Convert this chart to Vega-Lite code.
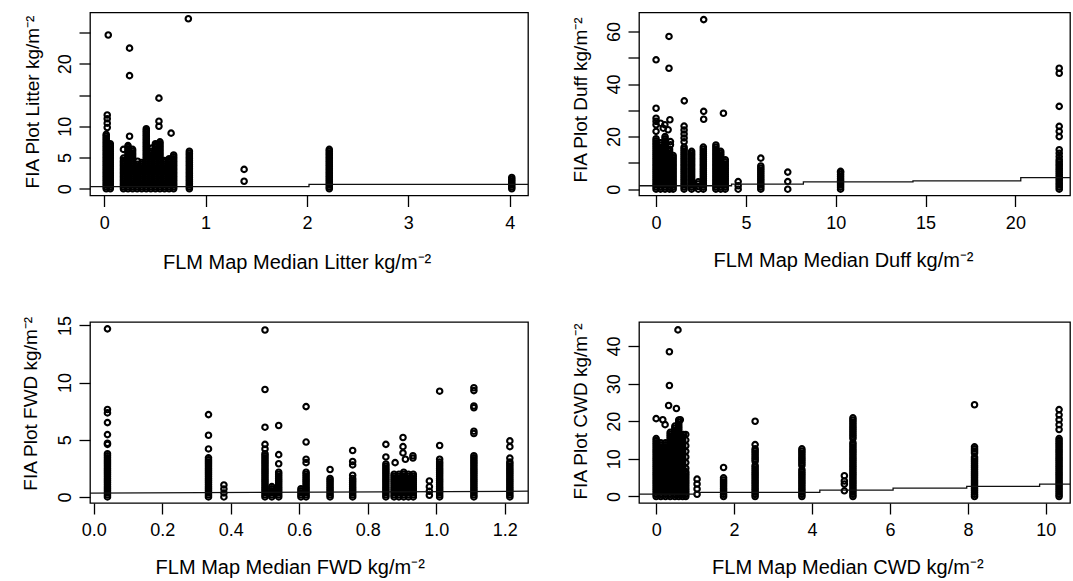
{
"$schema": "https://vega.github.io/schema/vega-lite/v6.json",
"padding": {"left": 20, "top": 10.5, "right": 0, "bottom": 0},
"background": "white",
"config": {
 "font": "Liberation Sans",
 "view": {"stroke": "#000", "strokeWidth": 1.3},
 "axis": {"domain": false, "grid": false, "ticks": true, "tickColor": "#000", "tickSize": 11, "tickWidth": 1.3, "labelColor": "#000", "labelFont": "Liberation Sans", "labelFontSize": 18, "labelFlush": false, "labelOverlap": false, "labelBound": false, "titleColor": "#000", "titleFont": "Liberation Sans", "titleFontSize": 19, "titleFontWeight": "normal", "titleAlign": "center", "titleBaseline": "alphabetic"},
 "axisX": {"labelAngle": 0, "labelBaseline": "alphabetic", "labelPadding": 21.7, "titleAngle": 0, "titleFontSize": 20},
 "axisY": {"labelAngle": 270, "labelAlign": "center", "labelBaseline": "alphabetic", "labelPadding": 8.3, "titleAngle": 270, "titleFontSize": 19}
},
"datasets": {
 "litter": [
{"x":0.02,"y":0},{"x":0.02,"y":0.3},{"x":0.02,"y":0.6},{"x":0.02,"y":0.9},{"x":0.02,"y":1.2},{"x":0.02,"y":1.5},{"x":0.02,"y":1.8},{"x":0.02,"y":2.1},{"x":0.02,"y":2.4},{"x":0.02,"y":2.7},{"x":0.02,"y":3},{"x":0.02,"y":3.3},{"x":0.02,"y":3.6},{"x":0.02,"y":3.9},{"x":0.02,"y":4.2},{"x":0.02,"y":4.5},{"x":0.02,"y":4.8},{"x":0.02,"y":5.1},{"x":0.02,"y":5.4},{"x":0.02,"y":5.7},{"x":0.02,"y":6},{"x":0.02,"y":6.3},{"x":0.02,"y":6.6},{"x":0.02,"y":6.9},{"x":0.02,"y":7.2},{"x":0.02,"y":7.5},{"x":0.02,"y":7.8},{"x":0.02,"y":8.1},{"x":0.02,"y":8.4},{"x":0.02,"y":8.7},
{"x":0.06,"y":0},{"x":0.06,"y":0.3},{"x":0.06,"y":0.6},{"x":0.06,"y":0.9},{"x":0.06,"y":1.2},{"x":0.06,"y":1.5},{"x":0.06,"y":1.8},{"x":0.06,"y":2.1},{"x":0.06,"y":2.4},{"x":0.06,"y":2.7},{"x":0.06,"y":3},{"x":0.06,"y":3.3},{"x":0.06,"y":3.6},{"x":0.06,"y":3.9},{"x":0.06,"y":4.2},{"x":0.06,"y":4.5},{"x":0.06,"y":4.8},{"x":0.06,"y":5.1},{"x":0.06,"y":5.4},{"x":0.06,"y":5.7},{"x":0.06,"y":6},{"x":0.06,"y":6.3},{"x":0.06,"y":6.6},{"x":0.06,"y":6.9},{"x":0.06,"y":7.2},
{"x":0.19,"y":0},{"x":0.19,"y":0.3},{"x":0.19,"y":0.6},{"x":0.19,"y":0.9},{"x":0.19,"y":1.2},{"x":0.19,"y":1.5},{"x":0.19,"y":1.8},{"x":0.19,"y":2.1},{"x":0.19,"y":2.4},{"x":0.19,"y":2.7},{"x":0.19,"y":3},{"x":0.19,"y":3.3},{"x":0.19,"y":3.6},{"x":0.19,"y":3.9},{"x":0.19,"y":4.2},{"x":0.19,"y":4.5},
{"x":0.235,"y":0},{"x":0.235,"y":0.3},{"x":0.235,"y":0.6},{"x":0.235,"y":0.9},{"x":0.235,"y":1.2},{"x":0.235,"y":1.5},{"x":0.235,"y":1.8},{"x":0.235,"y":2.1},{"x":0.235,"y":2.4},{"x":0.235,"y":2.7},{"x":0.235,"y":3},{"x":0.235,"y":3.3},{"x":0.235,"y":3.6},{"x":0.235,"y":3.9},{"x":0.235,"y":4.2},{"x":0.235,"y":4.5},{"x":0.235,"y":4.8},{"x":0.235,"y":5.1},{"x":0.235,"y":5.4},{"x":0.235,"y":5.7},{"x":0.235,"y":6},{"x":0.235,"y":6.3},{"x":0.235,"y":6.6},{"x":0.235,"y":6.9},
{"x":0.28,"y":0},{"x":0.28,"y":0.3},{"x":0.28,"y":0.6},{"x":0.28,"y":0.9},{"x":0.28,"y":1.2},{"x":0.28,"y":1.5},{"x":0.28,"y":1.8},{"x":0.28,"y":2.1},{"x":0.28,"y":2.4},{"x":0.28,"y":2.7},{"x":0.28,"y":3},{"x":0.28,"y":3.3},{"x":0.28,"y":3.6},{"x":0.28,"y":3.9},{"x":0.28,"y":4.2},{"x":0.28,"y":4.5},{"x":0.28,"y":4.8},{"x":0.28,"y":5.1},{"x":0.28,"y":5.4},{"x":0.28,"y":5.7},{"x":0.28,"y":6},{"x":0.28,"y":6.3},
{"x":0.325,"y":0},{"x":0.325,"y":0.3},{"x":0.325,"y":0.6},{"x":0.325,"y":0.9},{"x":0.325,"y":1.2},{"x":0.325,"y":1.5},{"x":0.325,"y":1.8},{"x":0.325,"y":2.1},{"x":0.325,"y":2.4},{"x":0.325,"y":2.7},{"x":0.325,"y":3},{"x":0.325,"y":3.3},{"x":0.325,"y":3.6},{"x":0.325,"y":3.9},
{"x":0.37,"y":0},{"x":0.37,"y":0.3},{"x":0.37,"y":0.6},{"x":0.37,"y":0.9},{"x":0.37,"y":1.2},{"x":0.37,"y":1.5},{"x":0.37,"y":1.8},{"x":0.37,"y":2.1},{"x":0.37,"y":2.4},{"x":0.37,"y":2.7},{"x":0.37,"y":3},{"x":0.37,"y":3.3},{"x":0.37,"y":3.6},{"x":0.37,"y":3.9},{"x":0.37,"y":4.2},
{"x":0.415,"y":0},{"x":0.415,"y":0.3},{"x":0.415,"y":0.6},{"x":0.415,"y":0.9},{"x":0.415,"y":1.2},{"x":0.415,"y":1.5},{"x":0.415,"y":1.8},{"x":0.415,"y":2.1},{"x":0.415,"y":2.4},{"x":0.415,"y":2.7},{"x":0.415,"y":3},{"x":0.415,"y":3.3},{"x":0.415,"y":3.6},{"x":0.415,"y":3.9},{"x":0.415,"y":4.2},{"x":0.415,"y":4.5},{"x":0.415,"y":4.8},{"x":0.415,"y":5.1},{"x":0.415,"y":5.4},{"x":0.415,"y":5.7},{"x":0.415,"y":6},{"x":0.415,"y":6.3},{"x":0.415,"y":6.6},{"x":0.415,"y":6.9},{"x":0.415,"y":7.2},{"x":0.415,"y":7.5},{"x":0.415,"y":7.8},{"x":0.415,"y":8.1},{"x":0.415,"y":8.4},{"x":0.415,"y":8.7},{"x":0.415,"y":9},{"x":0.415,"y":9.3},{"x":0.415,"y":9.6},
{"x":0.46,"y":0},{"x":0.46,"y":0.3},{"x":0.46,"y":0.6},{"x":0.46,"y":0.9},{"x":0.46,"y":1.2},{"x":0.46,"y":1.5},{"x":0.46,"y":1.8},{"x":0.46,"y":2.1},{"x":0.46,"y":2.4},{"x":0.46,"y":2.7},{"x":0.46,"y":3},{"x":0.46,"y":3.3},{"x":0.46,"y":3.6},{"x":0.46,"y":3.9},{"x":0.46,"y":4.2},{"x":0.46,"y":4.5},{"x":0.46,"y":4.8},{"x":0.46,"y":5.1},{"x":0.46,"y":5.4},{"x":0.46,"y":5.7},{"x":0.46,"y":6},
{"x":0.505,"y":0},{"x":0.505,"y":0.3},{"x":0.505,"y":0.6},{"x":0.505,"y":0.9},{"x":0.505,"y":1.2},{"x":0.505,"y":1.5},{"x":0.505,"y":1.8},{"x":0.505,"y":2.1},{"x":0.505,"y":2.4},{"x":0.505,"y":2.7},{"x":0.505,"y":3},{"x":0.505,"y":3.3},{"x":0.505,"y":3.6},{"x":0.505,"y":3.9},{"x":0.505,"y":4.2},{"x":0.505,"y":4.5},{"x":0.505,"y":4.8},{"x":0.505,"y":5.1},{"x":0.505,"y":5.4},{"x":0.505,"y":5.7},{"x":0.505,"y":6},{"x":0.505,"y":6.3},{"x":0.505,"y":6.6},{"x":0.505,"y":6.9},{"x":0.505,"y":7.2},
{"x":0.55,"y":0},{"x":0.55,"y":0.3},{"x":0.55,"y":0.6},{"x":0.55,"y":0.9},{"x":0.55,"y":1.2},{"x":0.55,"y":1.5},{"x":0.55,"y":1.8},{"x":0.55,"y":2.1},{"x":0.55,"y":2.4},{"x":0.55,"y":2.7},{"x":0.55,"y":3},{"x":0.55,"y":3.3},{"x":0.55,"y":3.6},{"x":0.55,"y":3.9},{"x":0.55,"y":4.2},{"x":0.55,"y":4.5},{"x":0.55,"y":4.8},{"x":0.55,"y":5.1},{"x":0.55,"y":5.4},{"x":0.55,"y":5.7},{"x":0.55,"y":6},{"x":0.55,"y":6.3},{"x":0.55,"y":6.6},{"x":0.55,"y":6.9},{"x":0.55,"y":7.2},{"x":0.55,"y":7.5},
{"x":0.595,"y":0},{"x":0.595,"y":0.3},{"x":0.595,"y":0.6},{"x":0.595,"y":0.9},{"x":0.595,"y":1.2},{"x":0.595,"y":1.5},{"x":0.595,"y":1.8},{"x":0.595,"y":2.1},{"x":0.595,"y":2.4},{"x":0.595,"y":2.7},{"x":0.595,"y":3},{"x":0.595,"y":3.3},{"x":0.595,"y":3.6},{"x":0.595,"y":3.9},{"x":0.595,"y":4.2},{"x":0.595,"y":4.5},
{"x":0.64,"y":0},{"x":0.64,"y":0.3},{"x":0.64,"y":0.6},{"x":0.64,"y":0.9},{"x":0.64,"y":1.2},{"x":0.64,"y":1.5},{"x":0.64,"y":1.8},{"x":0.64,"y":2.1},{"x":0.64,"y":2.4},{"x":0.64,"y":2.7},{"x":0.64,"y":3},{"x":0.64,"y":3.3},{"x":0.64,"y":3.6},{"x":0.64,"y":3.9},{"x":0.64,"y":4.2},{"x":0.64,"y":4.5},{"x":0.64,"y":4.8},
{"x":0.685,"y":0},{"x":0.685,"y":0.3},{"x":0.685,"y":0.6},{"x":0.685,"y":0.9},{"x":0.685,"y":1.2},{"x":0.685,"y":1.5},{"x":0.685,"y":1.8},{"x":0.685,"y":2.1},{"x":0.685,"y":2.4},{"x":0.685,"y":2.7},{"x":0.685,"y":3},{"x":0.685,"y":3.3},{"x":0.685,"y":3.6},{"x":0.685,"y":3.9},{"x":0.685,"y":4.2},{"x":0.685,"y":4.5},{"x":0.685,"y":4.8},{"x":0.685,"y":5.1},{"x":0.685,"y":5.4},
{"x":0.84,"y":0},{"x":0.84,"y":0.3},{"x":0.84,"y":0.6},{"x":0.84,"y":0.9},{"x":0.84,"y":1.2},{"x":0.84,"y":1.5},{"x":0.84,"y":1.8},{"x":0.84,"y":2.1},{"x":0.84,"y":2.4},{"x":0.84,"y":2.7},{"x":0.84,"y":3},{"x":0.84,"y":3.3},{"x":0.84,"y":3.6},{"x":0.84,"y":3.9},{"x":0.84,"y":4.2},{"x":0.84,"y":4.5},{"x":0.84,"y":4.8},{"x":0.84,"y":5.1},{"x":0.84,"y":5.4},{"x":0.84,"y":5.7},{"x":0.84,"y":6},
{"x":2.22,"y":0},{"x":2.22,"y":0.3},{"x":2.22,"y":0.6},{"x":2.22,"y":0.9},{"x":2.22,"y":1.2},{"x":2.22,"y":1.5},{"x":2.22,"y":1.8},{"x":2.22,"y":2.1},{"x":2.22,"y":2.4},{"x":2.22,"y":2.7},{"x":2.22,"y":3},{"x":2.22,"y":3.3},{"x":2.22,"y":3.6},{"x":2.22,"y":3.9},{"x":2.22,"y":4.2},{"x":2.22,"y":4.5},{"x":2.22,"y":4.8},{"x":2.22,"y":5.1},{"x":2.22,"y":5.4},{"x":2.22,"y":5.7},{"x":2.22,"y":6},
{"x":4.02,"y":0},{"x":4.02,"y":0.3},{"x":4.02,"y":0.6},{"x":4.02,"y":0.9},{"x":4.02,"y":1.2},{"x":4.02,"y":1.5},
{"x":0.03,"y":11.8},{"x":0.03,"y":11.2},{"x":0.03,"y":10.5},{"x":0.03,"y":9.8},{"x":0.04,"y":24.6},{"x":0.19,"y":6.3},{"x":0.19,"y":4.9},{"x":0.25,"y":22.5},{"x":0.25,"y":18.1},{"x":0.25,"y":8.4},{"x":0.33,"y":4.4},{"x":0.47,"y":6.5},{"x":0.54,"y":14.5},{"x":0.54,"y":10.8},{"x":0.54,"y":10},{"x":0.66,"y":8.9},{"x":0.83,"y":27.2},{"x":1.38,"y":3.1},{"x":1.38,"y":1.2},{"x":2.22,"y":6.3},{"x":4.02,"y":1.8}
 ],
 "litterFit": [{"x":-0.14,"y":0.35},{"x":2.02,"y":0.7},{"x":4.18,"y":0.7}],
 "duff": [
{"x":0,"y":0},{"x":0,"y":0.8},{"x":0,"y":1.6},{"x":0,"y":2.4},{"x":0,"y":3.2},{"x":0,"y":4},{"x":0,"y":4.8},{"x":0,"y":5.6},{"x":0,"y":6.4},{"x":0,"y":7.2},{"x":0,"y":8},{"x":0,"y":8.8},{"x":0,"y":9.6},{"x":0,"y":10.4},{"x":0,"y":11.2},{"x":0,"y":12},{"x":0,"y":12.8},{"x":0,"y":13.6},{"x":0,"y":14.4},{"x":0,"y":15.2},{"x":0,"y":16},{"x":0,"y":16.8},{"x":0,"y":17.6},{"x":0,"y":18.4},{"x":0,"y":19.2},
{"x":0.25,"y":0},{"x":0.25,"y":0.8},{"x":0.25,"y":1.6},{"x":0.25,"y":2.4},{"x":0.25,"y":3.2},{"x":0.25,"y":4},{"x":0.25,"y":4.8},{"x":0.25,"y":5.6},{"x":0.25,"y":6.4},{"x":0.25,"y":7.2},{"x":0.25,"y":8},{"x":0.25,"y":8.8},{"x":0.25,"y":9.6},{"x":0.25,"y":10.4},{"x":0.25,"y":11.2},{"x":0.25,"y":12},{"x":0.25,"y":12.8},{"x":0.25,"y":13.6},{"x":0.25,"y":14.4},{"x":0.25,"y":15.2},{"x":0.25,"y":16},{"x":0.25,"y":16.8},{"x":0.25,"y":17.6},
{"x":0.5,"y":0},{"x":0.5,"y":0.8},{"x":0.5,"y":1.6},{"x":0.5,"y":2.4},{"x":0.5,"y":3.2},{"x":0.5,"y":4},{"x":0.5,"y":4.8},{"x":0.5,"y":5.6},{"x":0.5,"y":6.4},{"x":0.5,"y":7.2},{"x":0.5,"y":8},{"x":0.5,"y":8.8},{"x":0.5,"y":9.6},{"x":0.5,"y":10.4},{"x":0.5,"y":11.2},{"x":0.5,"y":12},{"x":0.5,"y":12.8},{"x":0.5,"y":13.6},{"x":0.5,"y":14.4},{"x":0.5,"y":15.2},{"x":0.5,"y":16},{"x":0.5,"y":16.8},{"x":0.5,"y":17.6},{"x":0.5,"y":18.4},{"x":0.5,"y":19.2},{"x":0.5,"y":20},
{"x":0.75,"y":0},{"x":0.75,"y":0.8},{"x":0.75,"y":1.6},{"x":0.75,"y":2.4},{"x":0.75,"y":3.2},{"x":0.75,"y":4},{"x":0.75,"y":4.8},{"x":0.75,"y":5.6},{"x":0.75,"y":6.4},{"x":0.75,"y":7.2},{"x":0.75,"y":8},{"x":0.75,"y":8.8},{"x":0.75,"y":9.6},{"x":0.75,"y":10.4},{"x":0.75,"y":11.2},{"x":0.75,"y":12},{"x":0.75,"y":12.8},{"x":0.75,"y":13.6},{"x":0.75,"y":14.4},{"x":0.75,"y":15.2},
{"x":0.95,"y":0},{"x":0.95,"y":0.8},{"x":0.95,"y":1.6},{"x":0.95,"y":2.4},{"x":0.95,"y":3.2},{"x":0.95,"y":4},{"x":0.95,"y":4.8},{"x":0.95,"y":5.6},{"x":0.95,"y":6.4},{"x":0.95,"y":7.2},{"x":0.95,"y":8},{"x":0.95,"y":8.8},{"x":0.95,"y":9.6},{"x":0.95,"y":10.4},{"x":0.95,"y":11.2},{"x":0.95,"y":12},{"x":0.95,"y":12.8},
{"x":1.56,"y":0},{"x":1.56,"y":0.8},{"x":1.56,"y":1.6},{"x":1.56,"y":2.4},{"x":1.56,"y":3.2},{"x":1.56,"y":4},{"x":1.56,"y":4.8},{"x":1.56,"y":5.6},{"x":1.56,"y":6.4},{"x":1.56,"y":7.2},{"x":1.56,"y":8},{"x":1.56,"y":8.8},{"x":1.56,"y":9.6},{"x":1.56,"y":10.4},{"x":1.56,"y":11.2},{"x":1.56,"y":12},{"x":1.56,"y":12.8},{"x":1.56,"y":13.6},{"x":1.56,"y":14.4},{"x":1.56,"y":15.2},{"x":1.56,"y":16},{"x":1.56,"y":18},{"x":1.56,"y":19.5},{"x":1.56,"y":21},{"x":1.56,"y":22.5},{"x":1.56,"y":24},
{"x":1.98,"y":0},{"x":1.98,"y":0.8},{"x":1.98,"y":1.6},{"x":1.98,"y":2.4},{"x":1.98,"y":3.2},{"x":1.98,"y":4},{"x":1.98,"y":4.8},{"x":1.98,"y":5.6},{"x":1.98,"y":6.4},{"x":1.98,"y":7.2},{"x":1.98,"y":8},{"x":1.98,"y":8.8},{"x":1.98,"y":9.6},{"x":1.98,"y":10.4},{"x":1.98,"y":11.2},{"x":1.98,"y":12},{"x":1.98,"y":12.8},{"x":1.98,"y":13.6},{"x":1.98,"y":14.4},
{"x":2.35,"y":0},{"x":2.35,"y":1},{"x":2.35,"y":2},{"x":2.35,"y":2.8},
{"x":2.63,"y":0},{"x":2.63,"y":0.8},{"x":2.63,"y":1.6},{"x":2.63,"y":2.4},{"x":2.63,"y":3.2},{"x":2.63,"y":4},{"x":2.63,"y":4.8},{"x":2.63,"y":5.6},{"x":2.63,"y":6.4},{"x":2.63,"y":7.2},{"x":2.63,"y":8},{"x":2.63,"y":8.8},{"x":2.63,"y":9.6},{"x":2.63,"y":10.4},{"x":2.63,"y":11.2},{"x":2.63,"y":12},{"x":2.63,"y":12.8},{"x":2.63,"y":13.6},{"x":2.63,"y":14.4},{"x":2.63,"y":15.2},{"x":2.63,"y":16},
{"x":3.33,"y":0},{"x":3.33,"y":0.8},{"x":3.33,"y":1.6},{"x":3.33,"y":2.4},{"x":3.33,"y":3.2},{"x":3.33,"y":4},{"x":3.33,"y":4.8},{"x":3.33,"y":5.6},{"x":3.33,"y":6.4},{"x":3.33,"y":7.2},{"x":3.33,"y":8},{"x":3.33,"y":8.8},{"x":3.33,"y":9.6},{"x":3.33,"y":10.4},{"x":3.33,"y":11.2},{"x":3.33,"y":12},{"x":3.33,"y":12.8},{"x":3.33,"y":13.6},{"x":3.33,"y":14.4},{"x":3.33,"y":15.2},{"x":3.33,"y":16},{"x":3.33,"y":16.8},
{"x":3.6,"y":0},{"x":3.6,"y":0.8},{"x":3.6,"y":1.6},{"x":3.6,"y":2.4},{"x":3.6,"y":3.2},{"x":3.6,"y":4},{"x":3.6,"y":4.8},{"x":3.6,"y":5.6},{"x":3.6,"y":6.4},{"x":3.6,"y":7.2},{"x":3.6,"y":8},{"x":3.6,"y":8.8},{"x":3.6,"y":9.6},{"x":3.6,"y":10.4},{"x":3.6,"y":11.2},{"x":3.6,"y":12},{"x":3.6,"y":12.8},{"x":3.6,"y":13.6},{"x":3.6,"y":14.4},
{"x":3.85,"y":0},{"x":3.85,"y":0.8},{"x":3.85,"y":1.6},{"x":3.85,"y":2.4},{"x":3.85,"y":3.2},{"x":3.85,"y":4},{"x":3.85,"y":4.8},{"x":3.85,"y":5.6},{"x":3.85,"y":6.4},{"x":3.85,"y":7.2},{"x":3.85,"y":8},{"x":3.85,"y":8.8},{"x":3.85,"y":9.6},{"x":3.85,"y":10.4},{"x":3.85,"y":11.2},
{"x":4.57,"y":0},{"x":4.57,"y":1.3},{"x":4.57,"y":2.9},
{"x":5.83,"y":0},{"x":5.83,"y":0.8},{"x":5.83,"y":1.6},{"x":5.83,"y":2.4},{"x":5.83,"y":3.2},{"x":5.83,"y":4},{"x":5.83,"y":4.8},{"x":5.83,"y":5.6},{"x":5.83,"y":6.4},{"x":5.83,"y":7.2},{"x":5.83,"y":8},{"x":5.83,"y":8.8},
{"x":7.33,"y":0},{"x":7.33,"y":2.9},{"x":7.33,"y":6.5},
{"x":10.27,"y":0},{"x":10.27,"y":0.8},{"x":10.27,"y":1.6},{"x":10.27,"y":2.4},{"x":10.27,"y":3.2},{"x":10.27,"y":4},{"x":10.27,"y":4.8},{"x":10.27,"y":5.6},{"x":10.27,"y":6.4},
{"x":22.44,"y":0},{"x":22.44,"y":0.8},{"x":22.44,"y":1.6},{"x":22.44,"y":2.4},{"x":22.44,"y":3.2},{"x":22.44,"y":4},{"x":22.44,"y":4.8},{"x":22.44,"y":5.6},{"x":22.44,"y":6.4},{"x":22.44,"y":7.2},{"x":22.44,"y":8},{"x":22.44,"y":8.8},{"x":22.44,"y":9.6},{"x":22.44,"y":10.4},{"x":22.44,"y":11.2},
{"x":0,"y":30.8},{"x":0,"y":27},{"x":0,"y":25.8},{"x":0,"y":24.5},{"x":0,"y":22},{"x":0,"y":49.2},{"x":0.25,"y":25.1},{"x":0.4,"y":23.2},{"x":0.49,"y":24.5},{"x":0.77,"y":26.4},{"x":0.67,"y":22.6},{"x":0.8,"y":18.1},{"x":0.8,"y":16.9},{"x":0.72,"y":58.1},{"x":0.72,"y":46},{"x":1.57,"y":33.6},{"x":2.65,"y":64.5},{"x":2.65,"y":29.6},{"x":2.65,"y":26.6},{"x":3.75,"y":28.9},{"x":5.83,"y":11.8},{"x":10.27,"y":6.8},{"x":22.44,"y":12.4},{"x":22.44,"y":13.7},{"x":22.44,"y":15},{"x":22.44,"y":20},{"x":22.44,"y":22},{"x":22.44,"y":23.9},{"x":22.44,"y":31.5},{"x":22.44,"y":44.1},{"x":22.44,"y":46}
 ],
 "duffFit": [{"x":-0.95,"y":1.3},{"x":4.2,"y":1.9},{"x":8.2,"y":2.8},{"x":14.3,"y":3.2},{"x":20.3,"y":4.4},{"x":23.04,"y":4.4}],
 "fwd": [
{"x":0.04,"y":0},{"x":0.04,"y":0.18},{"x":0.04,"y":0.36},{"x":0.04,"y":0.54},{"x":0.04,"y":0.72},{"x":0.04,"y":0.9},{"x":0.04,"y":1.08},{"x":0.04,"y":1.26},{"x":0.04,"y":1.44},{"x":0.04,"y":1.62},{"x":0.04,"y":1.8},{"x":0.04,"y":1.98},{"x":0.04,"y":2.16},{"x":0.04,"y":2.34},{"x":0.04,"y":2.52},{"x":0.04,"y":2.7},{"x":0.04,"y":2.88},{"x":0.04,"y":3.06},{"x":0.04,"y":3.24},{"x":0.04,"y":3.42},{"x":0.04,"y":3.6},{"x":0.04,"y":3.78},
{"x":0.335,"y":0},{"x":0.335,"y":0.18},{"x":0.335,"y":0.36},{"x":0.335,"y":0.54},{"x":0.335,"y":0.72},{"x":0.335,"y":0.9},{"x":0.335,"y":1.08},{"x":0.335,"y":1.26},{"x":0.335,"y":1.44},{"x":0.335,"y":1.62},{"x":0.335,"y":1.8},{"x":0.335,"y":1.98},{"x":0.335,"y":2.16},{"x":0.335,"y":2.34},{"x":0.335,"y":2.52},{"x":0.335,"y":2.7},{"x":0.335,"y":2.88},{"x":0.335,"y":3.06},{"x":0.335,"y":3.24},{"x":0.335,"y":3.42},
{"x":0.38,"y":0},{"x":0.38,"y":0.35},{"x":0.38,"y":0.7},{"x":0.38,"y":1.05},
{"x":0.5,"y":0},{"x":0.5,"y":0.18},{"x":0.5,"y":0.36},{"x":0.5,"y":0.54},{"x":0.5,"y":0.72},{"x":0.5,"y":0.9},{"x":0.5,"y":1.08},{"x":0.5,"y":1.26},{"x":0.5,"y":1.44},{"x":0.5,"y":1.62},{"x":0.5,"y":1.8},{"x":0.5,"y":1.98},{"x":0.5,"y":2.16},{"x":0.5,"y":2.34},{"x":0.5,"y":2.52},{"x":0.5,"y":2.7},{"x":0.5,"y":2.88},{"x":0.5,"y":3.06},{"x":0.5,"y":3.24},{"x":0.5,"y":3.42},{"x":0.5,"y":3.6},{"x":0.5,"y":3.78},
{"x":0.52,"y":0},{"x":0.52,"y":0.18},{"x":0.52,"y":0.36},{"x":0.52,"y":0.54},{"x":0.52,"y":0.72},{"x":0.52,"y":0.9},
{"x":0.54,"y":0},{"x":0.54,"y":0.18},{"x":0.54,"y":0.36},{"x":0.54,"y":0.54},{"x":0.54,"y":0.72},{"x":0.54,"y":0.9},{"x":0.54,"y":1.08},{"x":0.54,"y":1.26},{"x":0.54,"y":1.44},{"x":0.54,"y":1.62},{"x":0.54,"y":1.8},{"x":0.54,"y":1.98},{"x":0.54,"y":2.16},
{"x":0.605,"y":0},{"x":0.605,"y":0.18},{"x":0.605,"y":0.36},{"x":0.605,"y":0.54},{"x":0.605,"y":0.72},
{"x":0.62,"y":0},{"x":0.62,"y":0.18},{"x":0.62,"y":0.36},{"x":0.62,"y":0.54},{"x":0.62,"y":0.72},{"x":0.62,"y":0.9},{"x":0.62,"y":1.08},{"x":0.62,"y":1.26},{"x":0.62,"y":1.44},{"x":0.62,"y":1.62},{"x":0.62,"y":1.8},{"x":0.62,"y":1.98},{"x":0.62,"y":2.16},
{"x":0.69,"y":0},{"x":0.69,"y":0.18},{"x":0.69,"y":0.36},{"x":0.69,"y":0.54},{"x":0.69,"y":0.72},{"x":0.69,"y":0.9},{"x":0.69,"y":1.08},{"x":0.69,"y":1.26},{"x":0.69,"y":1.44},{"x":0.69,"y":1.62},
{"x":0.756,"y":0},{"x":0.756,"y":0.18},{"x":0.756,"y":0.36},{"x":0.756,"y":0.54},{"x":0.756,"y":0.72},{"x":0.756,"y":0.9},{"x":0.756,"y":1.08},{"x":0.756,"y":1.26},{"x":0.756,"y":1.44},{"x":0.756,"y":1.62},
{"x":0.853,"y":0},{"x":0.853,"y":0.18},{"x":0.853,"y":0.36},{"x":0.853,"y":0.54},{"x":0.853,"y":0.72},{"x":0.853,"y":0.9},{"x":0.853,"y":1.08},{"x":0.853,"y":1.26},{"x":0.853,"y":1.44},{"x":0.853,"y":1.62},{"x":0.853,"y":1.8},{"x":0.853,"y":1.98},{"x":0.853,"y":2.16},{"x":0.853,"y":2.34},{"x":0.853,"y":2.52},{"x":0.853,"y":2.7},{"x":0.853,"y":2.88},
{"x":0.877,"y":0},{"x":0.877,"y":0.18},{"x":0.877,"y":0.36},{"x":0.877,"y":0.54},{"x":0.877,"y":0.72},{"x":0.877,"y":0.9},{"x":0.877,"y":1.08},{"x":0.877,"y":1.26},{"x":0.877,"y":1.44},{"x":0.877,"y":1.62},{"x":0.877,"y":1.8},{"x":0.877,"y":1.98},
{"x":0.891,"y":0},{"x":0.891,"y":0.18},{"x":0.891,"y":0.36},{"x":0.891,"y":0.54},{"x":0.891,"y":0.72},{"x":0.891,"y":0.9},{"x":0.891,"y":1.08},{"x":0.891,"y":1.26},{"x":0.891,"y":1.44},{"x":0.891,"y":1.62},{"x":0.891,"y":1.8},{"x":0.891,"y":1.98},
{"x":0.905,"y":0},{"x":0.905,"y":0.18},{"x":0.905,"y":0.36},{"x":0.905,"y":0.54},{"x":0.905,"y":0.72},{"x":0.905,"y":0.9},{"x":0.905,"y":1.08},{"x":0.905,"y":1.26},{"x":0.905,"y":1.44},{"x":0.905,"y":1.62},{"x":0.905,"y":1.8},{"x":0.905,"y":1.98},{"x":0.905,"y":2.16},
{"x":0.919,"y":0},{"x":0.919,"y":0.18},{"x":0.919,"y":0.36},{"x":0.919,"y":0.54},{"x":0.919,"y":0.72},{"x":0.919,"y":0.9},{"x":0.919,"y":1.08},{"x":0.919,"y":1.26},{"x":0.919,"y":1.44},{"x":0.919,"y":1.62},{"x":0.919,"y":1.8},{"x":0.919,"y":1.98},
{"x":0.933,"y":0},{"x":0.933,"y":0.18},{"x":0.933,"y":0.36},{"x":0.933,"y":0.54},{"x":0.933,"y":0.72},{"x":0.933,"y":0.9},{"x":0.933,"y":1.08},{"x":0.933,"y":1.26},{"x":0.933,"y":1.44},{"x":0.933,"y":1.62},{"x":0.933,"y":1.8},{"x":0.933,"y":1.98},
{"x":0.98,"y":0.15},{"x":0.98,"y":0.5},{"x":0.98,"y":0.9},{"x":0.98,"y":1.4},
{"x":1.01,"y":0},{"x":1.01,"y":0.18},{"x":1.01,"y":0.36},{"x":1.01,"y":0.54},{"x":1.01,"y":0.72},{"x":1.01,"y":0.9},{"x":1.01,"y":1.08},{"x":1.01,"y":1.26},{"x":1.01,"y":1.44},{"x":1.01,"y":1.62},{"x":1.01,"y":1.8},{"x":1.01,"y":1.98},{"x":1.01,"y":2.16},{"x":1.01,"y":2.34},{"x":1.01,"y":2.52},{"x":1.01,"y":2.7},{"x":1.01,"y":2.88},{"x":1.01,"y":3.06},
{"x":1.11,"y":0},{"x":1.11,"y":0.18},{"x":1.11,"y":0.36},{"x":1.11,"y":0.54},{"x":1.11,"y":0.72},{"x":1.11,"y":0.9},{"x":1.11,"y":1.08},{"x":1.11,"y":1.26},{"x":1.11,"y":1.44},{"x":1.11,"y":1.62},{"x":1.11,"y":1.8},{"x":1.11,"y":1.98},{"x":1.11,"y":2.16},{"x":1.11,"y":2.34},{"x":1.11,"y":2.52},{"x":1.11,"y":2.7},{"x":1.11,"y":2.88},{"x":1.11,"y":3.06},{"x":1.11,"y":3.24},{"x":1.11,"y":3.42},
{"x":1.215,"y":0},{"x":1.215,"y":0.18},{"x":1.215,"y":0.36},{"x":1.215,"y":0.54},{"x":1.215,"y":0.72},{"x":1.215,"y":0.9},{"x":1.215,"y":1.08},{"x":1.215,"y":1.26},{"x":1.215,"y":1.44},{"x":1.215,"y":1.62},{"x":1.215,"y":1.8},{"x":1.215,"y":1.98},{"x":1.215,"y":2.16},{"x":1.215,"y":2.34},{"x":1.215,"y":2.52},{"x":1.215,"y":2.7},{"x":1.215,"y":2.88},{"x":1.215,"y":3.06},
{"x":0.04,"y":14.7},{"x":0.04,"y":7.65},{"x":0.04,"y":7.35},{"x":0.04,"y":6.5},{"x":0.04,"y":5.45},{"x":0.04,"y":4.7},{"x":0.04,"y":4.6},{"x":0.335,"y":7.2},{"x":0.335,"y":5.4},{"x":0.335,"y":4.2},{"x":0.5,"y":14.6},{"x":0.5,"y":9.4},{"x":0.5,"y":6.1},{"x":0.5,"y":4.6},{"x":0.5,"y":4.2},{"x":0.54,"y":6.25},{"x":0.54,"y":3.7},{"x":0.54,"y":2.9},{"x":0.62,"y":7.9},{"x":0.62,"y":4.8},{"x":0.62,"y":3.3},{"x":0.62,"y":3},{"x":0.69,"y":2.4},{"x":0.756,"y":4.06},{"x":0.756,"y":3.1},{"x":0.756,"y":2.8},{"x":0.756,"y":1.9},{"x":0.853,"y":3.5},{"x":0.853,"y":4.6},{"x":0.88,"y":3},{"x":0.903,"y":5.2},{"x":0.903,"y":4.4},{"x":0.903,"y":3.85},{"x":0.91,"y":3.3},{"x":0.932,"y":3.6},{"x":0.932,"y":3.4},{"x":1.01,"y":3.3},{"x":1.01,"y":4.5},{"x":1.01,"y":9.25},{"x":1.11,"y":9.55},{"x":1.11,"y":9.3},{"x":1.11,"y":7.95},{"x":1.11,"y":7.8},{"x":1.11,"y":5.75},{"x":1.11,"y":5.55},{"x":1.11,"y":3.6},{"x":1.215,"y":4.9},{"x":1.215,"y":4.4},{"x":1.215,"y":3.4}
 ],
 "fwdFit": [{"x":-0.011,"y":0.33},{"x":1.268,"y":0.5}],
 "cwd": [
{"x":0,"y":0},{"x":0,"y":0.55},{"x":0,"y":1.1},{"x":0,"y":1.65},{"x":0,"y":2.2},{"x":0,"y":2.75},{"x":0,"y":3.3},{"x":0,"y":3.85},{"x":0,"y":4.4},{"x":0,"y":4.95},{"x":0,"y":5.5},{"x":0,"y":6.05},{"x":0,"y":6.6},{"x":0,"y":7.15},{"x":0,"y":7.7},{"x":0,"y":8.25},{"x":0,"y":8.8},{"x":0,"y":9.35},{"x":0,"y":9.9},{"x":0,"y":10.45},{"x":0,"y":11},{"x":0,"y":11.55},{"x":0,"y":12.1},{"x":0,"y":12.65},{"x":0,"y":13.2},{"x":0,"y":13.75},{"x":0,"y":14.3},{"x":0,"y":14.85},{"x":0,"y":15.4},
{"x":0.12,"y":0},{"x":0.12,"y":0.55},{"x":0.12,"y":1.1},{"x":0.12,"y":1.65},{"x":0.12,"y":2.2},{"x":0.12,"y":2.75},{"x":0.12,"y":3.3},{"x":0.12,"y":3.85},{"x":0.12,"y":4.4},{"x":0.12,"y":4.95},{"x":0.12,"y":5.5},{"x":0.12,"y":6.05},{"x":0.12,"y":6.6},{"x":0.12,"y":7.15},{"x":0.12,"y":7.7},{"x":0.12,"y":8.25},{"x":0.12,"y":8.8},{"x":0.12,"y":9.35},{"x":0.12,"y":9.9},{"x":0.12,"y":10.45},{"x":0.12,"y":11},{"x":0.12,"y":11.55},{"x":0.12,"y":12.1},{"x":0.12,"y":12.65},{"x":0.12,"y":13.2},{"x":0.12,"y":13.75},{"x":0.12,"y":14.3},
{"x":0.24,"y":0},{"x":0.24,"y":0.55},{"x":0.24,"y":1.1},{"x":0.24,"y":1.65},{"x":0.24,"y":2.2},{"x":0.24,"y":2.75},{"x":0.24,"y":3.3},{"x":0.24,"y":3.85},{"x":0.24,"y":4.4},{"x":0.24,"y":4.95},{"x":0.24,"y":5.5},{"x":0.24,"y":6.05},{"x":0.24,"y":6.6},{"x":0.24,"y":7.15},{"x":0.24,"y":7.7},{"x":0.24,"y":8.25},{"x":0.24,"y":8.8},{"x":0.24,"y":9.35},{"x":0.24,"y":9.9},{"x":0.24,"y":10.45},{"x":0.24,"y":11},{"x":0.24,"y":11.55},{"x":0.24,"y":12.1},{"x":0.24,"y":12.65},{"x":0.24,"y":13.2},{"x":0.24,"y":13.75},{"x":0.24,"y":14.3},
{"x":0.36,"y":0},{"x":0.36,"y":0.55},{"x":0.36,"y":1.1},{"x":0.36,"y":1.65},{"x":0.36,"y":2.2},{"x":0.36,"y":2.75},{"x":0.36,"y":3.3},{"x":0.36,"y":3.85},{"x":0.36,"y":4.4},{"x":0.36,"y":4.95},{"x":0.36,"y":5.5},{"x":0.36,"y":6.05},{"x":0.36,"y":6.6},{"x":0.36,"y":7.15},{"x":0.36,"y":7.7},{"x":0.36,"y":8.25},{"x":0.36,"y":8.8},{"x":0.36,"y":9.35},{"x":0.36,"y":9.9},{"x":0.36,"y":10.45},{"x":0.36,"y":11},{"x":0.36,"y":11.55},{"x":0.36,"y":12.1},{"x":0.36,"y":12.65},{"x":0.36,"y":13.2},{"x":0.36,"y":13.75},{"x":0.36,"y":14.3},{"x":0.36,"y":14.85},{"x":0.36,"y":15.4},{"x":0.36,"y":15.95},{"x":0.36,"y":16.5},{"x":0.36,"y":17.05},
{"x":0.48,"y":0},{"x":0.48,"y":0.55},{"x":0.48,"y":1.1},{"x":0.48,"y":1.65},{"x":0.48,"y":2.2},{"x":0.48,"y":2.75},{"x":0.48,"y":3.3},{"x":0.48,"y":3.85},{"x":0.48,"y":4.4},{"x":0.48,"y":4.95},{"x":0.48,"y":5.5},{"x":0.48,"y":6.05},{"x":0.48,"y":6.6},{"x":0.48,"y":7.15},{"x":0.48,"y":7.7},{"x":0.48,"y":8.25},{"x":0.48,"y":8.8},{"x":0.48,"y":9.35},{"x":0.48,"y":9.9},{"x":0.48,"y":10.45},{"x":0.48,"y":11},{"x":0.48,"y":11.55},{"x":0.48,"y":12.1},{"x":0.48,"y":12.65},{"x":0.48,"y":13.2},{"x":0.48,"y":13.75},{"x":0.48,"y":14.3},{"x":0.48,"y":14.85},{"x":0.48,"y":15.4},{"x":0.48,"y":15.95},{"x":0.48,"y":16.5},{"x":0.48,"y":17.05},{"x":0.48,"y":17.6},{"x":0.48,"y":18.15},{"x":0.48,"y":18.7},
{"x":0.58,"y":0},{"x":0.58,"y":0.55},{"x":0.58,"y":1.1},{"x":0.58,"y":1.65},{"x":0.58,"y":2.2},{"x":0.58,"y":2.75},{"x":0.58,"y":3.3},{"x":0.58,"y":3.85},{"x":0.58,"y":4.4},{"x":0.58,"y":4.95},{"x":0.58,"y":5.5},{"x":0.58,"y":6.05},{"x":0.58,"y":6.6},{"x":0.58,"y":7.15},{"x":0.58,"y":7.7},{"x":0.58,"y":8.25},{"x":0.58,"y":8.8},{"x":0.58,"y":9.35},{"x":0.58,"y":9.9},{"x":0.58,"y":10.45},{"x":0.58,"y":11},{"x":0.58,"y":11.55},{"x":0.58,"y":12.1},{"x":0.58,"y":12.65},{"x":0.58,"y":13.2},{"x":0.58,"y":13.75},{"x":0.58,"y":14.3},{"x":0.58,"y":14.85},{"x":0.58,"y":15.4},{"x":0.58,"y":15.95},{"x":0.58,"y":16.5},{"x":0.58,"y":17.05},{"x":0.58,"y":17.6},{"x":0.58,"y":18.15},{"x":0.58,"y":18.7},{"x":0.58,"y":19.25},{"x":0.58,"y":19.8},{"x":0.58,"y":20.35},
{"x":0.68,"y":0},{"x":0.68,"y":0.55},{"x":0.68,"y":1.1},{"x":0.68,"y":1.65},{"x":0.68,"y":2.2},{"x":0.68,"y":2.75},{"x":0.68,"y":3.3},{"x":0.68,"y":3.85},{"x":0.68,"y":4.4},{"x":0.68,"y":4.95},{"x":0.68,"y":5.5},{"x":0.68,"y":6.05},{"x":0.68,"y":6.6},{"x":0.68,"y":7.15},{"x":0.68,"y":7.7},{"x":0.68,"y":8.25},{"x":0.68,"y":8.8},{"x":0.68,"y":9.35},{"x":0.68,"y":9.9},{"x":0.68,"y":10.45},{"x":0.68,"y":11},{"x":0.68,"y":11.55},{"x":0.68,"y":12.1},{"x":0.68,"y":12.65},{"x":0.68,"y":13.2},{"x":0.68,"y":13.75},{"x":0.68,"y":14.3},{"x":0.68,"y":14.85},{"x":0.68,"y":15.4},{"x":0.68,"y":15.95},
{"x":0.76,"y":0},{"x":0.76,"y":0.55},{"x":0.76,"y":1.1},{"x":0.76,"y":1.65},{"x":0.76,"y":2.2},{"x":0.76,"y":2.75},{"x":0.76,"y":3.3},{"x":0.76,"y":3.85},{"x":0.76,"y":4.4},{"x":0.76,"y":4.95},{"x":0.76,"y":5.5},{"x":0.76,"y":6.05},{"x":0.76,"y":6.6},
{"x":0.76,"y":7.5},{"x":0.76,"y":9},{"x":0.76,"y":10.5},{"x":0.76,"y":12},{"x":0.76,"y":13.5},{"x":0.76,"y":15},{"x":0.76,"y":16.5},
{"x":1.05,"y":0.6},{"x":1.05,"y":2},{"x":1.05,"y":3.3},{"x":1.05,"y":4.6},
{"x":1.73,"y":0},{"x":1.73,"y":0.55},{"x":1.73,"y":1.1},{"x":1.73,"y":1.65},{"x":1.73,"y":2.2},{"x":1.73,"y":2.75},{"x":1.73,"y":3.3},{"x":1.73,"y":3.85},{"x":1.73,"y":4.4},{"x":1.73,"y":4.95},
{"x":2.54,"y":0},{"x":2.54,"y":0.55},{"x":2.54,"y":1.1},{"x":2.54,"y":1.65},{"x":2.54,"y":2.2},{"x":2.54,"y":2.75},{"x":2.54,"y":3.3},{"x":2.54,"y":3.85},{"x":2.54,"y":4.4},{"x":2.54,"y":4.95},{"x":2.54,"y":5.5},{"x":2.54,"y":6.05},{"x":2.54,"y":6.6},{"x":2.54,"y":7.15},{"x":2.54,"y":7.7},{"x":2.54,"y":8.25},{"x":2.54,"y":9.35},{"x":2.54,"y":9.9},{"x":2.54,"y":10.45},{"x":2.54,"y":11},{"x":2.54,"y":11.55},{"x":2.54,"y":12.1},{"x":2.54,"y":12.65},
{"x":3.74,"y":0},{"x":3.74,"y":0.55},{"x":3.74,"y":1.1},{"x":3.74,"y":1.65},{"x":3.74,"y":2.2},{"x":3.74,"y":2.75},{"x":3.74,"y":3.3},{"x":3.74,"y":3.85},{"x":3.74,"y":4.4},{"x":3.74,"y":4.95},{"x":3.74,"y":5.5},{"x":3.74,"y":6.05},{"x":3.74,"y":6.6},{"x":3.74,"y":7.15},{"x":3.74,"y":8.25},{"x":3.74,"y":8.8},{"x":3.74,"y":9.35},{"x":3.74,"y":9.9},{"x":3.74,"y":10.45},{"x":3.74,"y":11},{"x":3.74,"y":11.55},{"x":3.74,"y":12.1},{"x":3.74,"y":12.65},
{"x":4.83,"y":1.5},{"x":4.83,"y":3.3},{"x":4.83,"y":4.1},{"x":4.83,"y":5.5},
{"x":5.05,"y":0},{"x":5.05,"y":0.55},{"x":5.05,"y":1.1},{"x":5.05,"y":1.65},{"x":5.05,"y":2.2},{"x":5.05,"y":2.75},{"x":5.05,"y":3.3},{"x":5.05,"y":3.85},{"x":5.05,"y":4.4},{"x":5.05,"y":4.95},{"x":5.05,"y":5.5},{"x":5.05,"y":6.05},{"x":5.05,"y":6.6},{"x":5.05,"y":7.15},{"x":5.05,"y":7.7},{"x":5.05,"y":8.25},{"x":5.05,"y":8.8},{"x":5.05,"y":9.35},{"x":5.05,"y":9.9},{"x":5.05,"y":10.45},{"x":5.05,"y":11},{"x":5.05,"y":11.55},{"x":5.05,"y":12.1},{"x":5.05,"y":12.65},{"x":5.05,"y":13.2},{"x":5.05,"y":13.75},{"x":5.05,"y":14.3},{"x":5.05,"y":15.4},{"x":5.05,"y":15.95},{"x":5.05,"y":16.5},{"x":5.05,"y":17.05},{"x":5.05,"y":17.6},{"x":5.05,"y":18.15},{"x":5.05,"y":18.7},{"x":5.05,"y":19.25},{"x":5.05,"y":19.8},{"x":5.05,"y":20.35},{"x":5.05,"y":20.9},
{"x":8.17,"y":0},{"x":8.17,"y":0.55},{"x":8.17,"y":1.1},{"x":8.17,"y":1.65},{"x":8.17,"y":2.2},{"x":8.17,"y":2.75},{"x":8.17,"y":3.3},{"x":8.17,"y":3.85},{"x":8.17,"y":4.4},{"x":8.17,"y":4.95},{"x":8.17,"y":5.5},{"x":8.17,"y":6.05},{"x":8.17,"y":6.6},{"x":8.17,"y":7.15},{"x":8.17,"y":7.7},{"x":8.17,"y":8.25},{"x":8.17,"y":8.8},{"x":8.17,"y":9.35},{"x":8.17,"y":9.9},{"x":8.17,"y":10.45},{"x":8.17,"y":11.55},{"x":8.17,"y":12.1},{"x":8.17,"y":12.65},{"x":8.17,"y":13.2},
{"x":10.34,"y":0},{"x":10.34,"y":0.55},{"x":10.34,"y":1.1},{"x":10.34,"y":1.65},{"x":10.34,"y":2.2},{"x":10.34,"y":2.75},{"x":10.34,"y":3.3},{"x":10.34,"y":3.85},{"x":10.34,"y":4.4},{"x":10.34,"y":4.95},{"x":10.34,"y":5.5},{"x":10.34,"y":6.05},{"x":10.34,"y":6.6},{"x":10.34,"y":7.15},{"x":10.34,"y":7.7},{"x":10.34,"y":8.25},{"x":10.34,"y":8.8},{"x":10.34,"y":9.35},{"x":10.34,"y":9.9},{"x":10.34,"y":10.45},{"x":10.34,"y":11},{"x":10.34,"y":11.55},{"x":10.34,"y":12.1},{"x":10.34,"y":12.65},{"x":10.34,"y":13.2},{"x":10.34,"y":13.75},{"x":10.34,"y":14.3},{"x":10.34,"y":14.85},{"x":10.34,"y":15.4},
{"x":0,"y":20.7},{"x":0.17,"y":20.4},{"x":0.23,"y":19.1},{"x":0.34,"y":38.5},{"x":0.34,"y":29.5},{"x":0.32,"y":24.2},{"x":0.52,"y":23.4},{"x":0.56,"y":44.3},{"x":0.62,"y":20.4},{"x":0.7,"y":16.5},{"x":1.73,"y":7.7},{"x":2.54,"y":13.8},{"x":2.54,"y":20},{"x":8.17,"y":24.4},{"x":10.34,"y":17.8},{"x":10.34,"y":19.1},{"x":10.34,"y":20.4},{"x":10.34,"y":21.7},{"x":10.34,"y":23.1}
 ],
 "cwdFit": [{"x":-0.44,"y":0.63},{"x":0.99,"y":1.06},{"x":4.2,"y":1.7},{"x":6.08,"y":2.2},{"x":7.97,"y":2.7},{"x":9.84,"y":3.3},{"x":10.62,"y":3.3}]
},
"columns": 2,
"bounds": "flush",
"spacing": {"row": 126.5, "column": 111},
"concat": [
 {
  "width": 438, "height": 183,
  "encoding": {
   "x": {"field": "x", "type": "quantitative", "scale": {"domain": [-0.14, 4.18], "nice": false, "zero": false},
         "axis": {"title": "FLM Map Median Litter kg/m⁻²", "values": [0,1,2,3,4], "titleX": 206.6, "titleY": 72.7}},
   "y": {"field": "y", "type": "quantitative", "scale": {"domain": [-1.08, 28.2], "nice": false, "zero": false},
         "axis": {"title": "FIA Plot Litter kg/m⁻²", "values": [0,5,10,15,20,25], "labelExpr": "datum.value == 15 || datum.value == 25 ? '' : datum.label", "titleX": -52, "titleY": 89}}
  },
  "layer": [
   {"data": {"name": "litter"}, "mark": {"type": "point", "shape": "circle", "filled": false, "size": 30, "strokeWidth": 2.1, "color": "#000", "opacity": 1}, "encoding": {}},
   {"data": {"name": "litterFit"}, "mark": {"type": "line", "interpolate": "step-after", "color": "#111", "strokeWidth": 1.3}, "encoding": {}}
  ]
 },
 {
  "width": 431, "height": 183,
  "encoding": {
   "x": {"field": "x", "type": "quantitative", "scale": {"domain": [-0.95, 23.04], "nice": false, "zero": false},
         "axis": {"title": "FLM Map Median Duff kg/m⁻²", "values": [0,5,10,15,20], "titleX": 204, "titleY": 71}},
   "y": {"field": "y", "type": "quantitative", "scale": {"domain": [-2.4, 67.2], "nice": false, "zero": false},
         "axis": {"title": "FIA Plot Duff kg/m⁻²", "values": [0,10,20,30,40,50,60], "labelExpr": "datum.value % 20 == 0 ? datum.label : ''", "titleX": -53, "titleY": 87}}
  },
  "layer": [
   {"data": {"name": "duff"}, "mark": {"type": "point", "shape": "circle", "filled": false, "size": 30, "strokeWidth": 2.1, "color": "#000", "opacity": 1}, "encoding": {}},
   {"data": {"name": "duffFit"}, "mark": {"type": "line", "interpolate": "step-after", "color": "#111", "strokeWidth": 1.3}, "encoding": {}}
  ]
 },
 {
  "width": 438, "height": 181,
  "encoding": {
   "x": {"field": "x", "type": "quantitative", "scale": {"domain": [-0.011, 1.268], "nice": false, "zero": false},
         "axis": {"title": "FLM Map Median FWD kg/m⁻²", "values": [0,0.2,0.4,0.6,0.8,1,1.2], "format": ".1f", "titleX": 199.7, "titleY": 70}},
   "y": {"field": "y", "type": "quantitative", "scale": {"domain": [-0.53, 15.3], "nice": false, "zero": false},
         "axis": {"title": "FIA Plot FWD kg/m⁻²", "values": [0,5,10,15], "titleX": -53.6, "titleY": 81.3}}
  },
  "layer": [
   {"data": {"name": "fwd"}, "mark": {"type": "point", "shape": "circle", "filled": false, "size": 30, "strokeWidth": 2.1, "color": "#000", "opacity": 1}, "encoding": {}},
   {"data": {"name": "fwdFit"}, "mark": {"type": "line", "color": "#111", "strokeWidth": 1.3}, "encoding": {}}
  ]
 },
 {
  "width": 431, "height": 181,
  "encoding": {
   "x": {"field": "x", "type": "quantitative", "scale": {"domain": [-0.44, 10.62], "nice": false, "zero": false},
         "axis": {"title": "FLM Map Median CWD kg/m⁻²", "values": [0,2,4,6,8,10], "titleX": 208.3, "titleY": 70.7}},
   "y": {"field": "y", "type": "quantitative", "scale": {"domain": [-1.74, 46.4], "nice": false, "zero": false},
         "axis": {"title": "FIA Plot CWD kg/m⁻²", "values": [0,10,20,30,40], "titleX": -52.7, "titleY": 89}}
  },
  "layer": [
   {"data": {"name": "cwd"}, "mark": {"type": "point", "shape": "circle", "filled": false, "size": 30, "strokeWidth": 2.1, "color": "#000", "opacity": 1}, "encoding": {}},
   {"data": {"name": "cwdFit"}, "mark": {"type": "line", "interpolate": "step-after", "color": "#111", "strokeWidth": 1.3}, "encoding": {}}
  ]
 }
]
}
